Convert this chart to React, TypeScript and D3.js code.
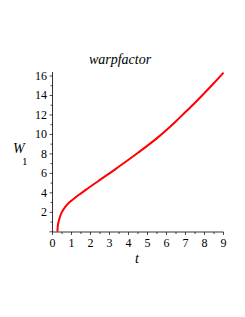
import React from "react";
import * as d3 from "d3";

const tValues = [0.26, 0.27, 0.3, 0.35, 0.41, 0.5, 0.67, 0.85, 1, 1.25, 1.5, 1.75, 2, 2.5, 3, 3.5, 4, 4.5, 5, 5.5, 6, 6.5, 7, 7.5, 8, 8.5, 9];
const wValues = [0, 0.4, 0.85, 1.25, 1.65, 2.05, 2.55, 2.95, 3.2, 3.6, 3.95, 4.3, 4.65, 5.33, 6.0, 6.7, 7.4, 8.12, 8.85, 9.62, 10.45, 11.35, 12.3, 13.25, 14.25, 15.28, 16.35];
const xTicks = [0, 1, 2, 3, 4, 5, 6, 7, 8, 9];
const yTicks = [2, 4, 6, 8, 10, 12, 14, 16];

export default function App() {
  const W = 245, H = 317;
  const x = d3.scaleLinear().domain([0, 9]).range([52.5, 223.5]);
  const y = d3.scaleLinear().domain([0, 16]).range([231.8, 76]);
  const data = tValues.map((t, i) => [t, wValues[i]] as [number, number]);
  const line = d3.line<[number, number]>().x(d => x(d[0])).y(d => y(d[1])).curve(d3.curveMonotoneX);
  const xMinor = d3.range(0, 9.01, 0.5);
  const yMinor = d3.range(0, 16.5, 1);
  const font = "'Liberation Serif', 'Times New Roman', serif";
  return (
    <svg width={W} height={H} style={{ position: "absolute", left: 0, top: 0 }} fontFamily={font}>
      <rect width={W} height={H} fill="white" />
      <text x={120} y={64} fontSize={14} fontStyle="italic" textAnchor="middle">warpfactor</text>
      <line x1={x(0)} x2={x(9)} y1={232} y2={232} stroke="#000" strokeWidth={0.8} />
      <line x1={x(0)} x2={x(0)} y1={72} y2={232} stroke="#000" strokeWidth={0.8} />
      {xMinor.map(t => (
        <line key={"xm" + t} x1={x(t)} x2={x(t)} y1={232} y2={Number.isInteger(t) ? 235 : 234} stroke="#000" strokeWidth={0.7} />
      ))}
      {yMinor.map(v => (
        <line key={"ym" + v} x1={x(0)} x2={x(0) - (v % 2 === 0 ? 3 : 2)} y1={y(v)} y2={y(v)} stroke="#000" strokeWidth={0.7} />
      ))}
      {xTicks.map(t => (
        <text key={"xl" + t} x={x(t)} y={247} fontSize={12} textAnchor="middle">{t}</text>
      ))}
      {yTicks.map(v => (
        <text key={"yl" + v} x={47} y={y(v) + 4} fontSize={12} textAnchor="end">{v}</text>
      ))}
      <text x={137} y={263} fontSize={14} fontStyle="italic" textAnchor="middle">t</text>
      <text x={13} y={153} fontSize={14} fontStyle="italic">W</text>
      <text x={22} y={165} fontSize={11}>1</text>
      <path d={line(data) || ""} fill="none" stroke="#ff0000" strokeWidth={2} />
    </svg>
  );
}
